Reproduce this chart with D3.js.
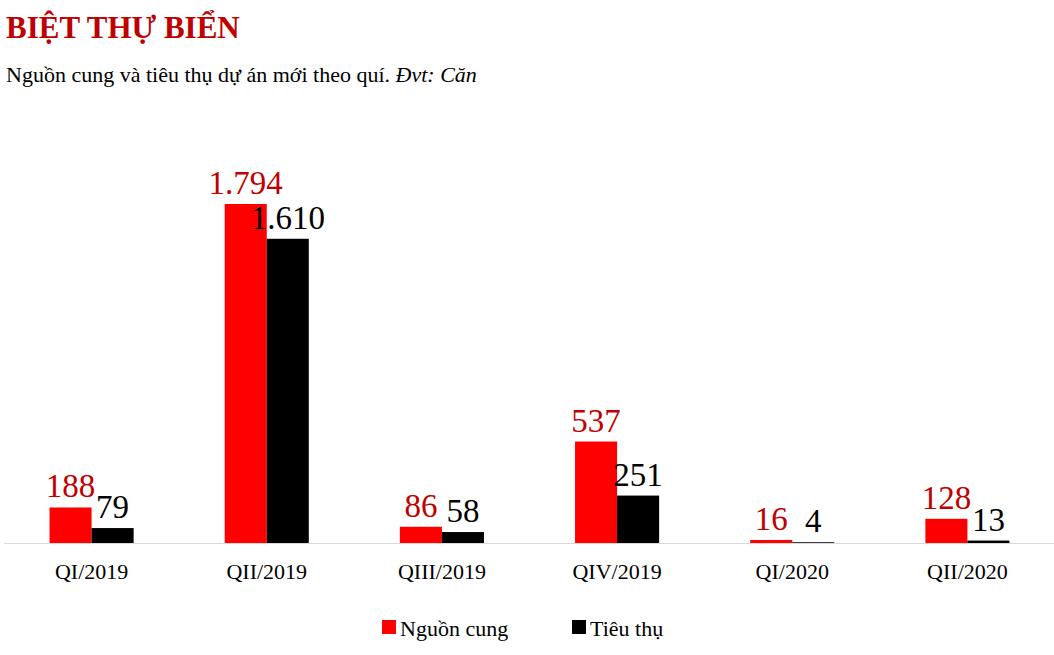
<!DOCTYPE html>
<html><head><meta charset="utf-8">
<script src="https://cdn.jsdelivr.net/npm/d3@7/dist/d3.min.js"></script>
<style>body{margin:0;background:#fff}svg{font-family:"Liberation Serif","Times New Roman",serif}</style>
</head><body><svg id="c" width="1054" height="655"></svg>
<script>
const categories=["QI/2019","QII/2019","QIII/2019","QIV/2019","QI/2020","QII/2020"];
const supply=[188,1794,86,537,16,128];
const sales=[79,1610,58,251,4,13];
const seriesNames=["Nguồn cung","Tiêu thụ"];
const fmt=v=>v>=1000?d3.format(",")(v).replace(",","."):String(v);
const svg=d3.select("#c");
svg.append("text").attr("x",6).attr("y",38).attr("fill","#C00000").attr("font-size",31).attr("font-weight","bold").text("BIỆT THỰ BIỂN");
const sub=svg.append("text").attr("x",6).attr("y",82).attr("font-size",22);
sub.append("tspan").text("Nguồn cung và tiêu thụ dự án mới theo quí. ");
sub.append("tspan").attr("font-style","italic").text("Đvt: Căn");
const x=d3.scaleBand().domain(categories).range([4,1055]).paddingInner(0.52).paddingOuter(0.26);
const y=d3.scaleLinear().domain([0,1794]).range([543,204]);
const bw=x.bandwidth()/2;
const g=svg.append("g");
categories.forEach((c,i)=>{
  const x0=x(c);
  g.append("rect").attr("x",x0).attr("y",y(supply[i])).attr("width",bw).attr("height",543-y(supply[i])).attr("fill","#FF0000");
  g.append("rect").attr("x",x0+bw).attr("y",y(sales[i])).attr("width",bw).attr("height",543-y(sales[i])).attr("fill","#000");
  g.append("text").attr("x",x0+bw/2).attr("y",y(supply[i])-10).attr("text-anchor","middle").attr("font-size",33).attr("fill","#C00000").text(fmt(supply[i]));
  g.append("text").attr("x",x0+bw*1.5).attr("y",y(sales[i])-10).attr("text-anchor","middle").attr("font-size",33).attr("fill","#000").text(fmt(sales[i]));
});
svg.append("line").attr("x1",4).attr("x2",1054).attr("y1",543.5).attr("y2",543.5).attr("stroke","#d9d9d9");
svg.append("g").attr("transform","translate(0,543)").call(d3.axisBottom(x).tickSize(0).tickPadding(20))
  .call(a=>{a.select(".domain").remove();a.selectAll("text").attr("font-size",22).attr("font-family","Liberation Serif").attr("fill","#000");});
const lg=svg.append("g");
[[382,"#FF0000"],[572,"#000"]].forEach(([lx,col],i)=>{
  lg.append("rect").attr("x",lx).attr("y",620).attr("width",14).attr("height",14).attr("fill",col);
  lg.append("text").attr("x",lx+18).attr("y",636).attr("font-size",22).text(seriesNames[i]);
});
</script></body></html>
